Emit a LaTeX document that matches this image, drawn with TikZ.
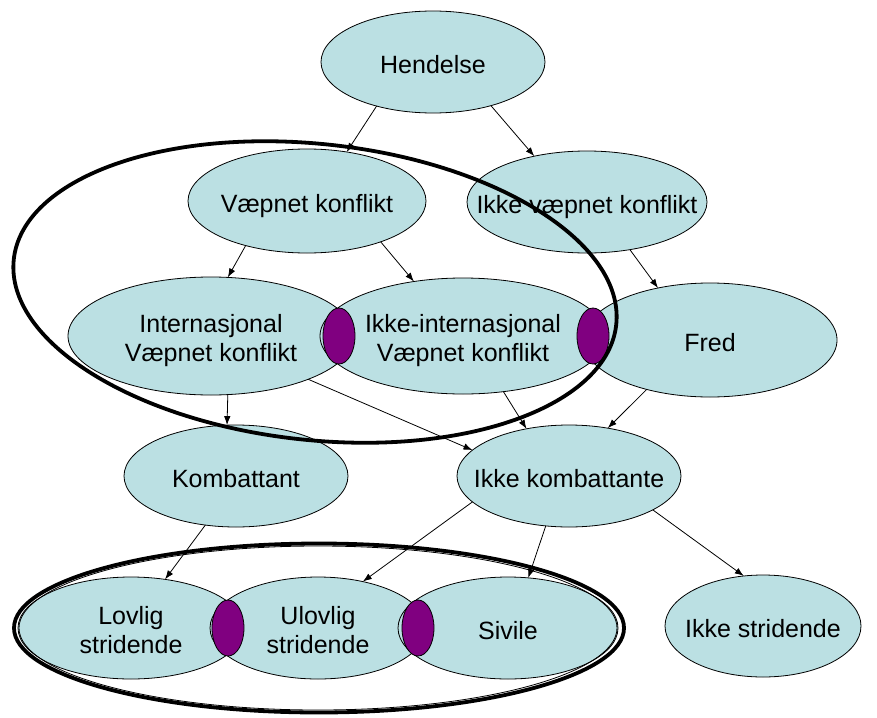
\documentclass[tikz,border=0pt]{standalone}
\usepackage{fontspec}
\setmainfont{Liberation Sans}
\usetikzlibrary{shapes.geometric, arrows.meta}
\definecolor{lightteal}{RGB}{187,224,227}
\definecolor{joint}{RGB}{128,0,128}

\begin{document}
\begin{tikzpicture}[
    x=1pt, y=-1pt,
    >={Latex[length=9pt, width=6.5pt]},
    category/.style={ellipse, draw, line width=0.8pt, fill=lightteal, inner sep=0pt, outer sep=0pt},
    overlap/.style={ellipse, draw, line width=0.8pt, fill=joint, minimum width=32pt, minimum height=56pt, inner sep=0pt},
    textnode/.style={align=center, inner sep=0pt, text depth=0pt, yshift=-2pt, font=\fontsize{25}{29}\selectfont},
    ring/.style={ellipse, draw, inner sep=0pt, outer sep=0pt},
    arrow/.style={->, line width=0.8pt},
    ]
    \useasboundingbox (0,0) rectangle (877,717);

    \node (HE) [category, minimum width=224pt, minimum height=102pt] at (433,62) {};
    \node (VK) [category, minimum width=238pt, minimum height=104pt] at (307,201) {};
    \node (IVK) [category, minimum width=240pt, minimum height=102pt] at (587,202) {};

    \node (IK) [category, minimum width=286pt, minimum height=118pt] at (211,336) {};
    \node (IIK) [category, minimum width=286pt, minimum height=116pt] at (463,336) {};
    \node (FR) [category, minimum width=254pt, minimum height=114pt] at (710,340) {};
    \node (O1) [overlap] at (339,336) {};
    \node (O2) [overlap] at (593,336) {};

    \node (KO) [category, minimum width=224pt, minimum height=102pt] at (236,476) {};
    \node (IKO) [category, minimum width=224pt, minimum height=102pt] at (569,476) {};

    \node (LS) [category, minimum width=226pt, minimum height=102pt] at (131,628) {};
    \node (US) [category, minimum width=216pt, minimum height=102pt] at (318,628) {};
    \node (SI) [category, minimum width=220pt, minimum height=102pt] at (508,628) {};
    \node (O3) [overlap] at (228,628) {};
    \node (O4) [overlap] at (418,628) {};
    \node (IS) [category, minimum width=196pt, minimum height=102pt] at (763,626) {};

    % Texts
    \node (THE) [textnode] at (HE) {Hendelse};
    \node (TVK) [textnode] at (VK) {Væpnet konflikt};
    \node (TIVK) [textnode] at (IVK) {Ikke væpnet konflikt};
    \node (TIK) [textnode] at (IK) {Internasjonal\\Væpnet konflikt};
    \node (TIIK) [textnode] at (IIK) {Ikke-internasjonal\\Væpnet konflikt};
    \node (TFR) [textnode] at (FR) {Fred};
    \node (TKO) [textnode] at (KO) {Kombattant};
    \node (TIKO) [textnode] at (IKO) {Ikke kombattante};
    \node (TLS) [textnode] at (LS) {Lovlig\\stridende};
    \node (TUS) [textnode] at (US) {Ulovlig\\stridende};
    \node (TSI) [textnode] at (SI) {Sivile};
    \node (TIS) [textnode] at (IS) {Ikke stridende};

    % Rings
    \node (R1) [ring, line width=3.8pt, minimum width=606pt, minimum height=296pt, rotate=-6.2] at (315,292) {};
    \node (R3) [ring, line width=0.8pt, minimum width=598pt, minimum height=164pt] at (318,628) {};
    \node (R2) [ring, line width=3.8pt, minimum width=610pt, minimum height=169pt] at (319,628) {};

    \draw[arrow] (HE.218) -- (VK.51);
    \draw[arrow] (HE.323) -- (IVK.139);
    \draw[arrow] (VK.216) -- (IK.74);
    \draw[arrow] (VK.331) -- (IIK.132);
    \draw[arrow] (IVK.312) -- (FR.135);
    \draw[arrow] (IK.286) -- (KO.100);
    \draw[arrow] (IK.336) -- (IKO.165);
    \draw[arrow] (IIK.306) -- (IKO.132);
    \draw[arrow] (FR.218) -- (IKO.51);
    \draw[arrow] (KO.238) -- (LS.55);
    \draw[arrow] (IKO.195) -- (US.46);
    \draw[arrow] (IKO.245) -- (SI.68);
    \draw[arrow] (IKO.338) -- (IS.111);
\end{tikzpicture}
\end{document}
